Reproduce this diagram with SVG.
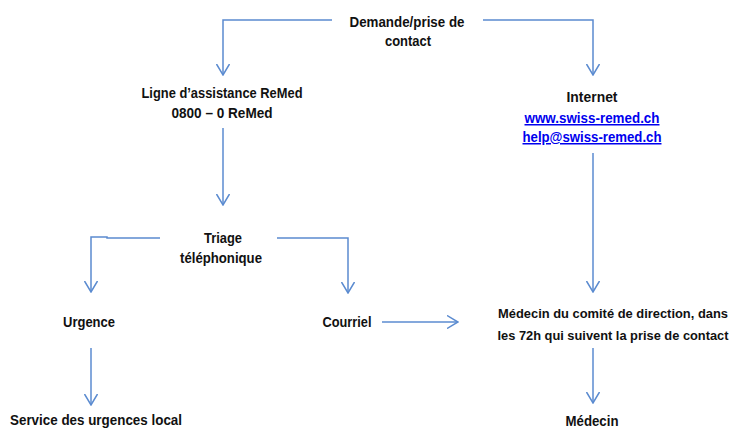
<svg xmlns="http://www.w3.org/2000/svg" width="736" height="429" viewBox="0 0 736 429">
<style>
.t{font-family:"Liberation Sans",Arial,sans-serif;font-weight:bold;font-size:15px;fill:#111;text-anchor:middle}
.s{font-size:13.2px}
.l{fill:#0000ee;text-decoration:underline}
.c{fill:none;stroke:#5b8bd0;stroke-width:1.5}
</style>
<defs>
<marker id="ah" viewBox="0 0 12 14" refX="11" refY="7" markerWidth="12" markerHeight="14" markerUnits="userSpaceOnUse" orient="auto">
<polyline points="0,0.5 11,7 0,13.5" fill="none" stroke="#5b8bd0" stroke-width="1.5"/>
</marker>
</defs>
<g id="connectors">
<polyline class="c" points="332,20 223,20 223,75" marker-end="url(#ah)"/>
<polyline class="c" points="483,20 593,20 593,75" marker-end="url(#ah)"/>
<line class="c" x1="223" y1="128" x2="223" y2="205" marker-end="url(#ah)"/>
<polyline class="c" points="160,238 107,238 107,237 91,237 91,292" marker-end="url(#ah)"/>
<polyline class="c" points="277,238 348,238 348,293" marker-end="url(#ah)"/>
<line class="c" x1="382" y1="322" x2="458" y2="322" marker-end="url(#ah)"/>
<line class="c" x1="593" y1="153" x2="593" y2="292" marker-end="url(#ah)"/>
<line class="c" x1="91" y1="348" x2="91" y2="405" marker-end="url(#ah)"/>
<line class="c" x1="593" y1="348" x2="593" y2="403" marker-end="url(#ah)"/>
</g>
<g id="demande"><text class="t" x="407" y="27" textLength="115" lengthAdjust="spacingAndGlyphs">Demande/prise de</text><text class="t" x="408" y="46" textLength="46" lengthAdjust="spacingAndGlyphs">contact</text></g>
<g id="ligne"><text class="t" x="222" y="98" textLength="161" lengthAdjust="spacingAndGlyphs">Ligne d’assistance ReMed</text><text class="t" x="222" y="118" textLength="101" lengthAdjust="spacingAndGlyphs">0800 – 0 ReMed</text></g>
<g id="internet"><text class="t" x="592" y="102" textLength="51" lengthAdjust="spacingAndGlyphs">Internet</text><text class="t l" x="592" y="123" textLength="135" lengthAdjust="spacingAndGlyphs">www.swiss-remed.ch</text><text class="t l" x="592" y="142" textLength="139" lengthAdjust="spacingAndGlyphs">help@swiss-remed.ch</text></g>
<g id="triage"><text class="t" x="223" y="243" textLength="38" lengthAdjust="spacingAndGlyphs">Triage</text><text class="t" x="221" y="263" textLength="82" lengthAdjust="spacingAndGlyphs">téléphonique</text></g>
<g id="urgence"><text class="t" x="89" y="327" textLength="52" lengthAdjust="spacingAndGlyphs">Urgence</text></g>
<g id="courriel"><text class="t" x="347" y="327" textLength="49" lengthAdjust="spacingAndGlyphs">Courriel</text></g>
<g id="medecin-comite"><text class="t s" x="613" y="318" textLength="230" lengthAdjust="spacingAndGlyphs">Médecin du comité de direction, dans</text><text class="t s" x="613" y="340" textLength="231" lengthAdjust="spacingAndGlyphs">les 72h qui suivent la prise de contact</text></g>
<g id="service"><text class="t" x="96" y="425" textLength="172" lengthAdjust="spacingAndGlyphs">Service des urgences local</text></g>
<g id="medecin"><text class="t" x="592" y="426" textLength="53" lengthAdjust="spacingAndGlyphs">Médecin</text></g>
</svg>
